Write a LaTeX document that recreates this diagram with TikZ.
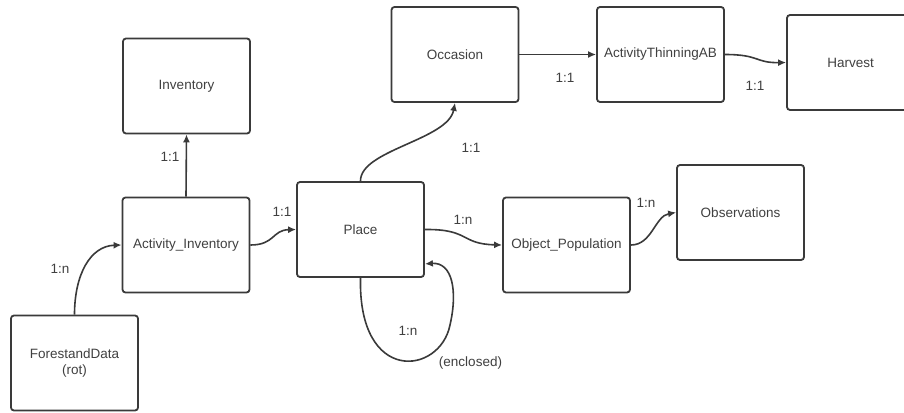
\documentclass[tikz,border=0pt]{standalone}
\usepackage{fontspec}
\setmainfont{Liberation Sans}
\usetikzlibrary{arrows.meta,calc}
\definecolor{ln}{HTML}{3A3A3A}
\definecolor{tx}{HTML}{404040}
\tikzset{
  entity/.style={draw=ln, line width=1.8pt, rounded corners=3pt, fill=white,
    minimum width=127pt, minimum height=95pt, inner sep=0pt,
    text=tx, font=\fontsize{13.5}{16}\selectfont, align=center},
  lbl/.style={text=tx, font=\fontsize{13.5}{16}\selectfont, inner sep=0pt},
  rel/.style={draw=ln, line width=1.6pt, -{Latex[length=8pt,width=7pt]}}
}
\begin{document}
\begin{tikzpicture}[x=1pt,y=-1pt]
\clip (0,0) rectangle (904,412);
\fill[white] (0,0) rectangle (904,412);
% entities
\node[entity] (inv)     at (186.5,86)   {Inventory};
\node[entity] (actinv)  at (186,245)    {Activity\_Inventory};
\node[entity] (forest)  at (74.5,363)   {ForestandData\\(rot)};
\node[entity] (place)   at (360.5,229.5){Place};
\node[entity] (objpop)  at (566.5,245)  {Object\_Population};
\node[entity] (occ)     at (455,54.5)   {Occasion};
\node[entity] (atab)    at (660.5,54.5) {ActivityThinningAB};
\node[entity] (harvest) at (850.5,62.5) {Harvest};
\node[entity] (obs)     at (740.5,212.5){Observations};
% connectors
\draw[rel] (forest.north) .. controls (74.5,275) and (90,246) .. (actinv.west);
\draw[rel] (actinv.north) -- (inv.south);
\draw[rel] (actinv.east) .. controls (275,245) and (272,230) .. (place.west);
\draw[rel] (place.east) .. controls (470,229) and (460,244) .. (objpop.west);
\draw[rel] (objpop.east) .. controls (652,245) and (655,216) .. (obs.west);
\draw[rel] (place.north) .. controls (360,150) and (448,140) .. (occ.south);
\draw[rel] (occ.east) -- (atab.west);
\draw[rel] (atab.east) .. controls (760,54.5) and (755,63) .. (harvest.west);
\coordinate (loopin) at ($(place.south east)+(0,-14)$);
\draw[rel] (place.south) .. controls (358,385) and (440,375) .. (450,325)
  .. controls (458,290) and (452,262) .. (loopin);
% labels
\node[lbl] (l1) at (60,269)  {1:n};
\node[lbl] (l2) at (170,157) {1:1};
\node[lbl] (l3) at (282,212) {1:1};
\node[lbl] (l4) at (463,220) {1:n};
\node[lbl] (l5) at (646,203) {1:n};
\node[lbl] (l6) at (471,148) {1:1};
\node[lbl] (l7) at (565,78)  {1:1};
\node[lbl] (l8) at (755,86)  {1:1};
\node[lbl] (l9) at (408,331) {1:n};
\node[lbl] (l10) at (470.5,363) {(enclosed)};
\end{tikzpicture}
\end{document}
